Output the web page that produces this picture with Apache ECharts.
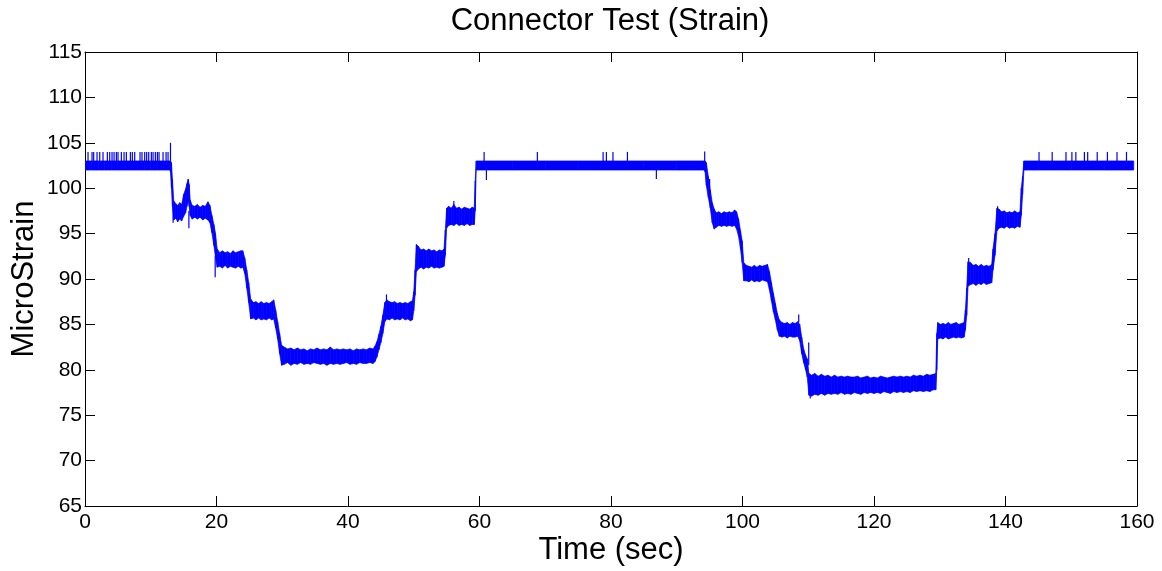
<!DOCTYPE html>
<html>
<head>
<meta charset="utf-8">
<script src="https://cdn.jsdelivr.net/npm/echarts@6/dist/echarts.min.js"></script>
<style>
html,body{margin:0;padding:0;background:#fff;}
#chart{width:1162px;height:571px;}
</style>
</head>
<body>
<div id="chart"></div>
<script>
// ---- Tick labels ----
const xTickLabels = [0, 20, 40, 60, 80, 100, 120, 140, 160];
const yTickLabels = [65, 70, 75, 80, 85, 90, 95, 100, 105, 110, 115];

// ---- Noise band of the strain signal: time (sec), lower and upper edge (microstrain) ----
const timeSec = [
  0,1,2,3,4,5,6,7,8,9,10,11,12,12.9,
  13.0,13.15,13.3,13.5,13.8,14.1,14.4,14.7,15.0,15.3,15.5,15.7,15.85,16.0,16.3,16.7,17.1,17.5,17.9,18.3,18.7,19.0,
  19.3,19.6,19.85,20.1,20.5,20.9,21.3,21.7,22.1,22.5,22.9,23.3,23.7,24.0,24.3,24.6,24.9,
  25.2,25.6,26.0,26.4,26.8,27.2,27.6,28.0,28.4,28.7,29.0,29.3,29.6,
  29.9,30.3,30.8,31.3,31.8,32.3,32.8,33.3,33.8,34.3,34.8,35.3,35.8,36.3,36.8,37.3,37.8,38.3,38.8,39.3,39.8,40.3,40.8,41.3,41.8,42.3,42.8,43.3,43.8,44.1,44.4,44.7,
  45.0,45.3,45.6,45.9,46.3,46.7,47.1,47.5,47.9,48.3,48.7,49.1,49.5,49.8,
  50.0,50.2,50.4,50.7,51.1,51.5,51.9,52.3,52.7,53.1,53.5,53.9,54.3,54.6,
  54.8,55.0,55.3,55.7,56.1,56.5,56.9,57.3,57.7,58.1,58.5,58.9,59.2,59.35,59.5,
  60,65,70,75,80,85,90,94.2,
  94.3,94.5,94.8,95.1,95.4,95.7,96.0,96.4,96.8,97.2,97.6,98.0,98.4,98.8,99.1,99.4,99.7,99.95,
  100.2,100.6,101.0,101.4,101.8,102.2,102.6,103.0,103.4,103.8,104.1,104.4,104.7,105.0,105.3,105.6,
  106.0,106.4,106.8,107.2,107.6,108.0,108.4,108.7,109.0,109.3,109.6,109.85,
  110.1,110.5,111.0,111.5,112.0,112.5,113.0,113.5,114.0,114.5,115.0,115.5,116.0,116.5,117.0,117.5,118.0,118.5,119.0,119.5,120.0,120.5,121.0,121.5,122.0,122.5,123.0,123.5,124.0,124.5,125.0,125.5,126.0,126.5,127.0,127.5,128.0,128.5,129.0,129.4,
  129.55,129.7,130.1,130.5,130.9,131.3,131.7,132.1,132.5,132.9,133.3,133.7,
  133.9,134.1,134.3,134.7,135.1,135.5,135.9,136.3,136.7,137.1,137.5,137.9,
  138.1,138.4,138.7,139.0,139.4,139.8,140.2,140.6,141.0,141.4,141.8,142.2,142.4,142.6,
  142.8,145,150,155,159.5
];
const bandLow = [
  102.0,102.0,102.0,102.0,102.0,102.0,102.0,102.0,102.0,102.0,102.0,102.0,102.0,102.0,
  101.8,100.0,98.0,96.5,96.7,96.3,96.6,96.4,96.9,97.3,98.0,98.6,98.0,97.0,96.6,96.8,96.6,96.8,96.5,96.7,96.5,96.2,
  95.1,93.7,92.4,91.3,91.4,91.2,91.5,91.2,91.4,91.3,91.2,91.4,91.2,91.3,90.6,89.0,87.4,
  85.6,85.7,85.5,85.7,85.5,85.6,85.5,85.7,85.5,85.6,84.6,83.4,81.8,
  80.5,80.6,80.8,80.5,80.7,80.6,80.8,80.6,80.7,80.6,80.8,80.7,80.6,80.7,80.5,80.7,80.6,80.7,80.6,80.7,80.8,80.6,80.7,80.6,80.8,80.7,80.7,80.8,80.7,80.9,81.4,82.2,
  83.0,84.0,85.3,85.6,85.5,85.7,85.5,85.6,85.5,85.7,85.5,85.6,85.4,85.5,
  86.5,88.2,90.8,91.1,91.3,91.1,91.3,91.2,91.4,91.2,91.3,91.2,91.3,91.4,
  92.6,95.6,95.9,96.0,95.9,96.1,95.9,96.0,95.9,96.1,95.9,96.0,96.0,97.5,102.0,
  102.0,102.0,102.0,102.0,102.0,102.0,102.0,102.0,
  101.8,100.3,99.0,97.8,96.2,95.5,95.7,95.9,95.8,95.9,95.8,95.9,95.8,95.9,95.5,94.7,93.3,91.8,
  89.8,89.8,89.7,89.9,89.7,89.8,89.7,89.9,89.8,89.7,88.8,87.6,86.4,85.5,84.4,83.7,
  83.6,83.7,83.5,83.7,83.6,83.6,83.7,83.2,81.8,80.8,80.0,79.2,
  77.2,77.1,77.3,77.2,77.4,77.2,77.4,77.3,77.4,77.3,77.5,77.3,77.4,77.3,77.5,77.4,77.3,77.5,77.4,77.5,77.4,77.5,77.4,77.6,77.5,77.4,77.6,77.5,77.6,77.5,77.6,77.5,77.7,77.6,77.7,77.6,77.7,77.6,77.8,77.8,
  80.0,83.4,83.5,83.4,83.6,83.4,83.5,83.6,83.5,83.6,83.5,83.6,
  84.4,86.0,89.2,89.4,89.5,89.3,89.5,89.4,89.6,89.4,89.5,89.6,
  91.0,92.6,95.3,95.6,95.7,95.6,95.8,95.6,95.7,95.6,95.8,95.7,97.0,99.3,
  102.0,102.0,102.0,102.0,102.0
];
const bandHigh = [
  103.0,103.0,103.0,103.0,103.0,103.0,103.0,103.0,103.0,103.0,103.0,103.0,103.0,103.0,
  103.0,102.8,101.0,98.6,98.3,98.1,98.4,98.2,99.3,99.9,100.5,101.0,100.4,98.7,98.1,98.0,98.2,97.9,98.1,98.0,98.5,98.1,
  97.0,96.0,95.0,93.3,92.9,93.1,92.9,93.0,92.8,93.1,92.9,93.0,93.1,93.1,92.3,91.0,89.6,
  87.8,87.4,87.5,87.3,87.5,87.3,87.4,87.3,87.5,87.7,86.6,85.3,84.0,
  82.7,82.5,82.3,82.4,82.2,82.4,82.2,82.3,82.1,82.3,82.2,82.4,82.2,82.3,82.2,82.5,82.2,82.3,82.2,82.3,82.2,82.3,82.1,82.3,82.2,82.3,82.2,82.4,82.3,82.6,83.1,83.9,
  84.8,86.0,87.4,87.7,87.5,87.4,87.5,87.3,87.4,87.3,87.4,87.3,87.5,87.6,
  88.6,91.0,93.8,93.6,93.2,93.3,93.1,93.3,93.1,93.2,93.0,93.2,93.1,93.3,
  95.4,97.8,98.0,97.8,98.2,97.8,97.9,97.7,97.9,97.8,97.7,97.9,97.8,100.8,103.0,
  103.0,103.0,103.0,103.0,103.0,103.0,103.0,103.0,
  103.0,102.8,101.3,99.8,98.4,97.7,97.3,97.4,97.2,97.4,97.3,97.4,97.3,97.6,97.4,96.6,95.3,94.2,
  91.8,91.5,91.4,91.3,91.5,91.3,91.5,91.4,91.5,91.6,90.8,89.6,88.4,87.3,86.2,85.5,
  85.2,85.1,85.2,85.0,85.2,85.1,85.3,85.0,83.6,82.3,81.6,81.2,
  79.6,79.4,79.6,79.3,79.5,79.3,79.4,79.2,79.4,79.2,79.3,79.2,79.3,79.2,79.2,79.3,79.1,79.2,79.3,79.1,79.2,79.1,79.3,79.2,79.1,79.2,79.3,79.2,79.3,79.2,79.3,79.2,79.4,79.3,79.4,79.3,79.5,79.4,79.5,79.6,
  84.0,85.2,85.0,85.1,85.0,85.2,85.0,85.1,85.2,85.0,85.1,85.2,
  86.6,89.0,91.9,91.8,91.5,91.6,91.4,91.6,91.4,91.5,91.4,91.6,
  93.3,95.0,97.8,97.7,97.4,97.5,97.3,97.4,97.3,97.5,97.3,97.4,100.0,101.3,
  103.0,103.0,103.0,103.0,103.0
];

// ---- Isolated spikes: time (sec), value it leaves from, extreme value ----
const spikeTime = [
  0.46,1.07,1.32,1.83,2.24,2.74,3.40,3.76,4.11,4.42,4.77,5.02,5.53,5.94,6.29,6.90,7.20,7.56,8.37,8.67,9.08,9.38,9.69,10.09,10.35,10.70,11.01,11.26,11.87,12.33,12.63,
  13.0,13.4,15.8,19.8,45.85,56.1,
  60.7,61.05,68.8,78.8,79.3,80.3,82.5,86.9,94.25,
  95.0,108.55,110.07,110.3,134.4,138.8,
  145.1,147.1,149.2,150.1,150.7,152.0,152.5,153.95,155.5,156.96,158.4
];
const spikeBase = [
  103,103,103,103,103,103,103,103,103,103,103,103,103,103,103,103,103,103,103,103,103,103,103,103,103,103,103,103,103,103,103,
  103,98,97.5,92.5,87.5,97.9,
  103,102,103,103,103,103,103,102,103,
  99.5,85.2,80.5,77.3,91.5,97.5,
  103,103,103,103,103,103,103,103,103,103,103
];
const spikePeak = [
  104,104,104,104,104,104,104,104,104,104,104,104,104,104,104,104,104,104,104,104,104,104,104,104,104,104,104,104,104,104,104,
  105.0,96.2,95.6,90.2,88.3,98.6,
  104,100.9,104,104,104,104,104,101.0,104.05,
  101.0,86.1,83.0,76.85,92.3,98.0,
  104,104,104,104,104,104,104,104,104,104,104
];

const FONT = '"Liberation Sans", Arial, Helvetica, sans-serif';
const BLUE = '#0000ff';
const n = Math.min(timeSec.length, bandLow.length, bandHigh.length);
const bandData = [];
for (let i = 0; i < n; i++) bandData.push([timeSec[i], bandLow[i], bandHigh[i]]);
const m = Math.min(spikeTime.length, spikeBase.length, spikePeak.length);
const spikeData = [];
for (let i = 0; i < m; i++) spikeData.push([spikeTime[i], spikeBase[i], spikePeak[i]]);

function renderBand(params, api) {
  const i = params.dataIndexInside;
  if (i >= params.dataInsideLength - 1) return null;
  const t0 = api.value(0, i), lo0 = api.value(1, i), hi0 = api.value(2, i);
  const t1 = api.value(0, i + 1), lo1 = api.value(1, i + 1), hi1 = api.value(2, i + 1);
  const pts = [api.coord([t0, lo0]), api.coord([t0, hi0]), api.coord([t1, hi1]), api.coord([t1, lo1])];
  return { type: 'polygon', shape: { points: pts }, style: { fill: BLUE, stroke: BLUE, lineWidth: 0.7 } };
}
function renderSpike(params, api) {
  const p0 = api.coord([api.value(0), api.value(1)]);
  const p1 = api.coord([api.value(0), api.value(2)]);
  return { type: 'line', shape: { x1: p0[0], y1: p0[1], x2: p1[0], y2: p1[1] }, style: { stroke: BLUE, lineWidth: 1.2 } };
}

const xMin = xTickLabels[0], xMax = xTickLabels[xTickLabels.length - 1], xInt = xTickLabels[1] - xTickLabels[0];
const yMin = yTickLabels[0], yMax = yTickLabels[yTickLabels.length - 1], yInt = yTickLabels[1] - yTickLabels[0];
const axisLineStyle = { show: true, onZero: false, lineStyle: { color: '#000', width: 1 } };
const tickStyle = { show: true, inside: true, length: 10, lineStyle: { color: '#000', width: 1 } };
const nameStyle = { color: '#000', fontSize: 31, fontFamily: FONT };

const chart = echarts.init(document.getElementById('chart'), null, { renderer: 'canvas' });
chart.setOption({
  animation: false,
  backgroundColor: '#fff',
  title: {
    text: 'Connector Test (Strain)',
    left: 610, top: 6, textAlign: 'center', padding: 0,
    textStyle: { fontSize: 31, fontWeight: 'normal', color: '#000', fontFamily: FONT }
  },
  grid: { left: 85, top: 52, width: 1052, height: 455, containLabel: false },
  xAxis: [
    {
      type: 'value', min: xMin, max: xMax, interval: xInt, position: 'bottom',
      axisLine: axisLineStyle, axisTick: tickStyle,
      axisLabel: { color: '#000', fontSize: 21, fontFamily: FONT, margin: 6 },
      splitLine: { show: false },
      name: 'Time (sec)', nameLocation: 'middle', nameGap: 29, nameMoveOverlap: false,
      nameTextStyle: nameStyle
    },
    {
      type: 'value', min: xMin, max: xMax, interval: xInt, position: 'top',
      axisLine: axisLineStyle, axisTick: tickStyle,
      axisLabel: { show: false }, splitLine: { show: false }
    }
  ],
  yAxis: [
    {
      type: 'value', min: yMin, max: yMax, interval: yInt, position: 'left',
      axisLine: axisLineStyle, axisTick: tickStyle,
      axisLabel: { color: '#000', fontSize: 21, fontFamily: FONT, margin: 3 },
      splitLine: { show: false },
      name: 'MicroStrain', nameLocation: 'middle', nameGap: 45, nameMoveOverlap: false,
      nameTextStyle: nameStyle
    },
    {
      type: 'value', min: yMin, max: yMax, interval: yInt, position: 'right',
      axisLine: axisLineStyle, axisTick: tickStyle,
      axisLabel: { show: false }, splitLine: { show: false }
    }
  ],
  series: [
    {
      type: 'custom', name: 'band', xAxisIndex: 0, yAxisIndex: 0,
      renderItem: renderBand, data: bandData, encode: { x: 0, y: [1, 2] }, clip: true, silent: true
    },
    {
      type: 'custom', name: 'spikes', xAxisIndex: 0, yAxisIndex: 0,
      renderItem: renderSpike, data: spikeData, encode: { x: 0, y: [1, 2] }, clip: true, silent: true
    }
  ]
});
</script>
</body>
</html>
